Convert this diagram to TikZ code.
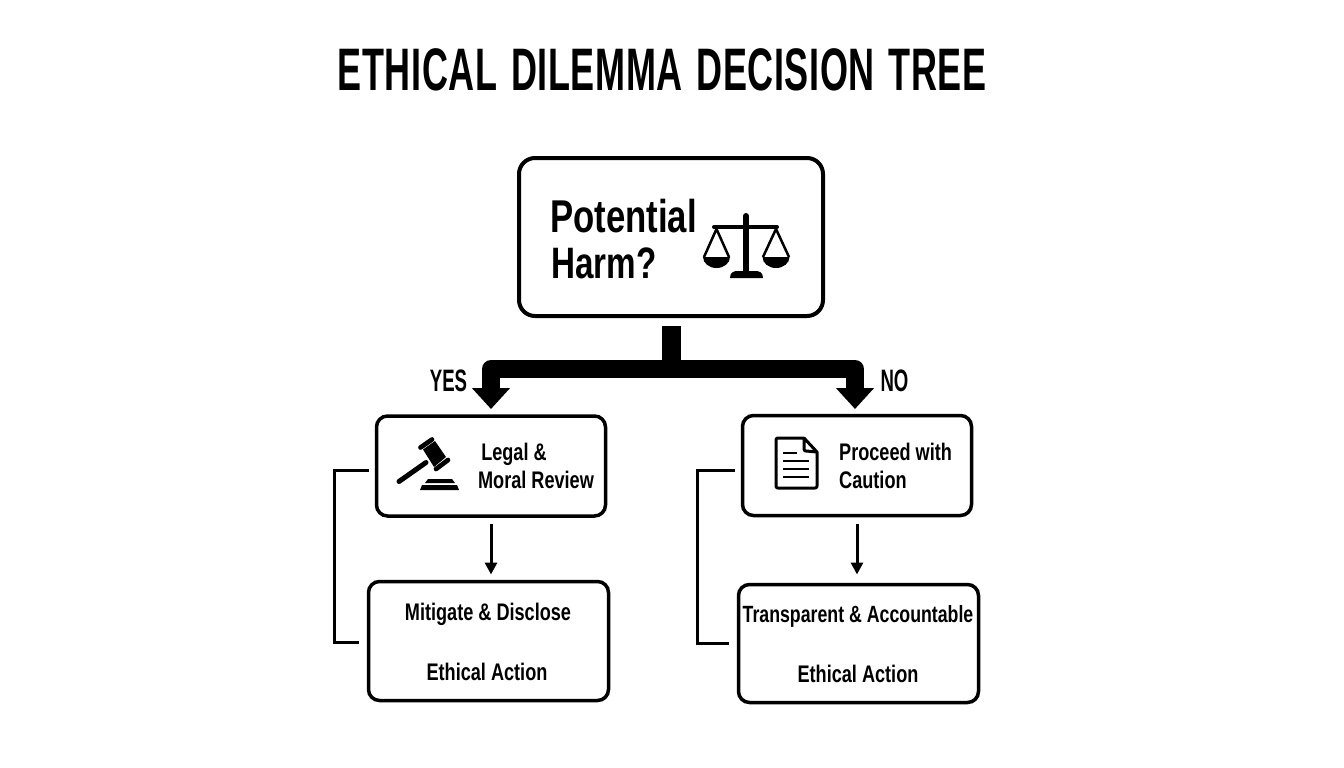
\documentclass[tikz,border=0pt]{standalone}
\usepackage{fontspec}
\setmainfont[FakeStretch=0.755]{Liberation Sans}
\newfontfamily\titlefont[FakeStretch=0.6,LetterSpace=1,WordSpace=1.3]{Liberation Sans}
\newfontfamily\answerfont[FakeStretch=0.6]{Liberation Sans}
\usetikzlibrary{arrows.meta}
\tikzset{
	treebox/.style={draw=black,fill=white,rounded corners=11pt,line width=3.5pt,outer sep=0pt},
	trunkline/.style={draw=black,line width=18pt,line join=round},
	branchline/.style={trunkline,-{Triangle[length=21pt,width=37pt]}},
	downline/.style={draw=black,line width=3pt,-{Triangle[length=12pt,width=12pt]}},
	sideline/.style={draw=black,line width=3pt,shorten <=8pt,shorten >=10pt},
	boxtext/.style={font=\fontsize{24}{28}\selectfont\bfseries,inner sep=0pt,anchor=base},
	bigtext/.style={font=\fontsize{46}{46}\selectfont\bfseries,inner sep=0pt,anchor=base west},
	titletext/.style={font=\fontsize{60}{60}\selectfont\titlefont\bfseries,inner sep=0pt,anchor=base},
	answertext/.style={font=\fontsize{31}{31}\selectfont\answerfont\bfseries,inner sep=0pt,anchor=base}
}
\begin{document}
\begin{tikzpicture}[x=1pt,y=-1pt,line cap=butt]
	\useasboundingbox (0,0) rectangle (1344,768);
	\fill[color=white] (0,0) rectangle (1344,768);
	\node[titletext] (title) at (662,90) {ETHICAL DILEMMA DECISION TREE};

	\node[treebox,rounded corners=16pt,line width=4pt,minimum width=304pt,minimum height=158pt] (harm) at (671,237) {};
	\node[treebox,minimum width=229pt,minimum height=100pt] (legal) at (491,466) {};
	\node[treebox,minimum width=229pt,minimum height=100pt] (caution) at (857,465.5) {};
	\node[treebox,minimum width=240pt,minimum height=119pt] (mitigate) at (488.5,641) {};
	\node[treebox,minimum width=240pt,minimum height=118pt] (transparent) at (858.5,643.5) {};

	\node[bigtext] (potentialtext) at (550,232) {Potential};
	\node[bigtext,font=\fontsize{44}{46}\selectfont\bfseries] (harmtext) at (551,278) {Harm?};
	\node[boxtext] (legaltext) at (514,460) {Legal \&};
	\node[boxtext] (reviewtext) at (536,488) {Moral Review};
	\node[boxtext,anchor=base west] (proceedtext) at (839,460) {Proceed with};
	\node[boxtext,anchor=base west] (cautiontext) at (839,488) {Caution};
	\node[boxtext] (mitigatetext) at (488,620) {Mitigate \& Disclose};
	\node[boxtext] (actionleft) at (487,680) {Ethical Action};
	\node[boxtext,font=\fontsize{23.5}{28}\selectfont\bfseries] (transparenttext) at (858,622) {Transparent \& Accountable};
	\node[boxtext] (actionright) at (858,682) {Ethical Action};
	\node[answertext] (yes) at (448.5,391) {YES};
	\node[answertext] (no) at (894.5,391) {NO};

	\coordinate (fork) at (671,369);
	\coordinate (yestip) at (491,409);
	\coordinate (notip) at (855,409);
	\coordinate (legalbus) at (334,470);
	\coordinate (cautionbus) at (697,470);
	\draw[trunkline,line width=19pt,shorten <=10pt] (harm.south) -- (fork);
	\draw[branchline] (fork) -| (yestip);
	\draw[branchline] (fork) -| (notip);
	\draw[downline,shorten <=8pt,shorten >=7pt] (legal.south) -- (legal.south |- mitigate.north);
	\draw[downline,shorten <=8pt,shorten >=10pt] (caution.south) -- (caution.south |- transparent.north);
	\draw[sideline] ([yshift=-4pt]legal.west) -- (legalbus) |- ([yshift=-1pt]mitigate.west);
	\draw[sideline] ([yshift=-4.5pt]caution.west) -- (cautionbus) |- (transparent.west);

	\draw[line width=6pt,line cap=round] (746,216) -- (746,272);
	\draw[line width=4pt,line cap=round] (714,227) -- (777,227);
	\fill (730,278) .. controls (730,272) and (734,271) .. (738,271) -- (755,271) .. controls (759,271) and (763,272) .. (763,278) -- cycle;
	\draw[line width=2.5pt,line join=round] (704,257) -- (716.5,229) -- (729,257);
	\draw[line width=2.5pt,line join=round] (763,257) -- (776,229) -- (789,257);
	\fill (703,257) arc[x radius=13.5,y radius=11,start angle=180,end angle=0] -- cycle;
	\fill (762.5,257) arc[x radius=13.5,y radius=11,start angle=180,end angle=0] -- cycle;

	\draw[line width=5pt,line cap=round] (399,481.5) -- (426,462.5);
	\fill (423,449.5) -- (435,441) -- (446,457) -- (434,467) -- cycle;
	\draw[line width=4.7pt,line cap=round] (420.5,447.5) -- (432,439.5);
	\draw[line width=4.7pt,line cap=round] (436,469) -- (448,460);
	\fill (428,479) -- (452,479) -- (455,483) -- (425,483) -- cycle;
	\fill (422,485) -- (457,485) -- (459,490) -- (420,490) -- cycle;

	\draw[line width=3pt,line join=round] (804,438) -- (778,438) .. controls (776.5,438) and (776,438.5) .. (776,440) -- (776,486) .. controls (776,487.5) and (776.5,488) .. (778,488) -- (815,488) .. controls (816.5,488) and (817,487.5) .. (817,486) -- (817,452) -- (804,438) -- (804,449) .. controls (804,450.5) and (805,451) .. (806,451) -- (817,452);
	\draw[line width=2.7pt] (783,453) -- (797,453);
	\foreach \y in {461,469,477}
		\draw[line width=2.7pt] (783,\y) -- (809,\y);
\end{tikzpicture}
\end{document}
